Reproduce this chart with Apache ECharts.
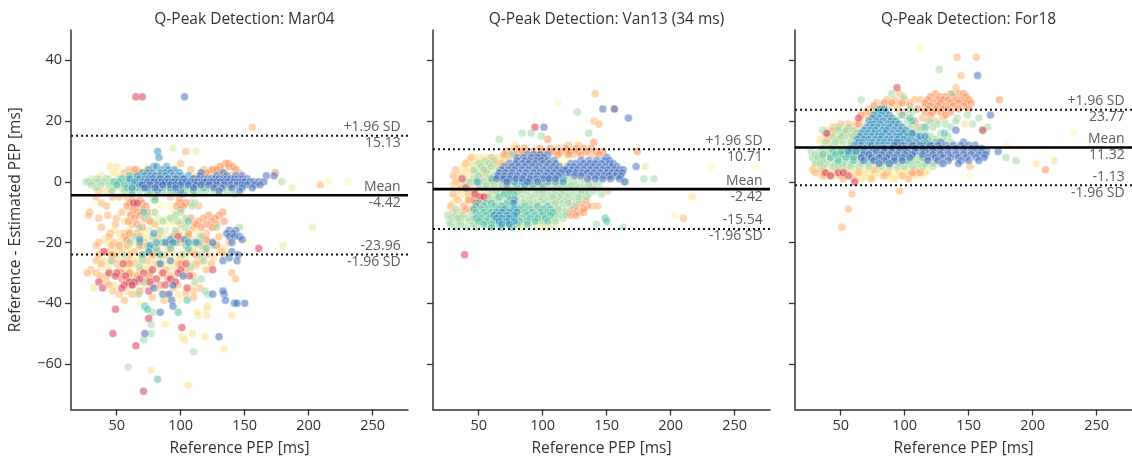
<!DOCTYPE html>
<html><head><meta charset="utf-8">
<style>html,body{margin:0;padding:0;background:#fff}#c{width:1132px;height:462px}</style>
<script src="https://cdn.jsdelivr.net/npm/echarts@6/dist/echarts.min.js"></script>
</head><body><div id="c"></div>
<script>
// Each row: [y, x1, x2, ...], in ms
const panelTitles=['Q-Peak Detection: Mar04','Q-Peak Detection: Van13 (34 ms)','Q-Peak Detection: For18'];
const xTicks=[50,100,150,200,250];
const yTicks=[-60,-40,-20,0,20,40];
const meanValues=[-4.42,-2.42,11.32];
const upperValues=[15.13,10.71,23.77];
const lowerValues=[-23.96,-15.54,-1.13];

const mar_pale=[[0,216,231],[-20,151],[-40,68],[-39,99],[-15,78,84,96],[-18,92,104,116],[-22,70,84,110],[-25,62,96],[-12,88,102],[-28,74,118],[-8,84,92],[-3,40,55],[5,72,95],[-14,70,90,110],[-17,60,82,98],[-24,78,90,108],[-30,66,96],[-21,62,96,118],[-26,72,104],[-19,76,88,106]];
const mar_lime=[[11,94],[10,112],[-2,187],[-15,203],[-21,180],[-44,114],[-42,120],[-12,82,92],[-16,75,88,100],[-20,66,80,115],[-24,52,72,96,124],[-27,44,60,88,108],[1,30,44],[3,90],[-6,78],[-18,72,86,106],[-22,60,76,92,112],[-25,48,70,100],[-29,58,84,106],[-13,78,94]];
const mar_yellow=[[5,45,50],[3,48,60,72],[2,38,52,66,82,112],[-3,42,58],[-35,32],[-44,140,120],[-43,113],[-41,121],[-47,88],[-50,109],[-51,101,119],[-52,103],[-55,134],[-62,77],[-67,106],[-10,60,78,96],[-13,56,86,104],[-16,48,60,70,108],[-19,40,54,62,78,112,128],[-22,46,58,90,118,134],[-25,36,50,66,86,104,126],[-28,38,56,78,94,112],[-31,62,84,102],[-34,48,72,110],[-37,66,98],[-20,44,56,68,82,96,110,124],[-23,38,50,62,76,92,106,120,130],[-26,40,54,68,80,98,114],[-29,44,60,72,90,108],[-17,52,66,84,98,114],[-32,38,54,78,94],[-36,58,84,104]];
const mar_lightorange=[[18,156],[10,104],[-1,209],[6,100],[4,60,66,74,108,118,124,130],[3,56,68,78,116,122,134,146],[2,62,118,128,140],[-3,36,46,62,88,104],[-5,34,47,52,58,80,92],[-7,38,100,108],[-8,42,114],[-10,29,54],[-11,28,43],[-12,36,50],[-14,49,62,80,100],[-15,38,110,124],[-17,45,56,66,96,120],[-20,36,48,60,72,100,122,138],[-23,42,54,64,82,108,132],[-26,34,46,58,74,92,116],[-29,30,52,68,88,104,120],[-30,27,34,140],[-31,37],[-32,143],[-33,42,72],[-36,47,110],[-38,78,110],[-39,56,87],[-35,115,94],[-18,44,56,68,82,94,106,118,130],[-21,34,46,58,70,92,104,116,128],[-24,36,48,60,70,88,100,120,134],[-27,38,50,64,82,98,112,124],[-31,42,60,76,92,110],[-34,44,78,98],[-37,52,62,90,104]];
const mar_orange=[[6,135,137],[5,131,138,141],[4,64,125,128,143],[3,174,120],[-6,62,68,99],[-7,60,70,104],[-8,58,65,73,97,102],[-9,63,70,100],[-10,66,74,133],[-11,61,68,122,130],[-12,64,72,108,118,127],[-13,59,76,114,124,134],[-14,66,112,120,128],[-15,70,116,125],[-17,60,106],[-19,58,100,120],[-21,52,68,128],[-24,46,78,112],[-27,60,84,100],[-30,54,60,76],[-31,66],[-32,54,73,90],[-33,58,67],[-34,62,84],[-36,68]];
const mar_green=[[1,35,42,52,58,110],[0,26,28,32,36,40,46,56,62,68],[-1,30,38,44,50,60,66,72,84,100],[-2,34,48,54,64,72,78,90,94,108,116,122,128,134],[-3,46,56,62,68,74,80,86,92,98,104,112,116,120,126,130,136,140],[-4,74,92,110,142],[-7,111],[-8,109],[-10,80,100],[-13,98,86],[-15,68,104,128,146],[-18,64,78,94,116],[-21,74,104,126],[-24,56,84,102,116],[-26,46,70,118],[-28,68,108],[-33,63,71,111],[-32,116],[-34,63],[-36,119],[-37,67,121],[-43,78],[-47,77],[-50,77],[-52,71],[-56,110],[-61,59],[0,179],[-2,84,100,104,112,126,138],[-12,92,104],[-16,96,84],[-20,60,110],[-11,74,96]];
const mar_red=[[28,65,70],[-22,161],[-29,78,100,125],[-30,44,50,71,86,98],[-31,49,57,107],[-32,68,81,92],[-33,36,60,64,76,96],[-34,56,62,88],[-35,39,54,105],[-36,75],[-42,49],[-45,75],[-48,101],[-50,47],[-54,65],[-69,71],[-23,40],[-27,55,104],[-20,90],[-18,98],[-7,63,66]];
const mar_teal=[[3,96],[2,60,70,86],[1,54,66,78,104],[0,48,52,60,72,112],[-1,56,64,76,92],[-2,58,70,86,102,118],[-3,76,96,110],[-4,62,102],[-6,80],[-10,71],[-13,106],[-20,68,86,96,114],[-22,76,81,92,106,120],[-24,84,70],[-41,72],[-42,74],[-43,98],[-39,105],[-65,82],[-2,66,82],[-1,50,70,84,104]];
const mar_blue=[[10,82],[8,83],[5,79,81,89],[4,75,85,95,90],[3,70,74,78,84,88,92,99],[2,66,72,76,80,84,88,94,98,100,106],[1,60,68,72,75,82,86,90,94,97,100,103,110],[0,64,70,77,87,96,106,114,122],[-1,68,80,88,98,110],[-2,62,74,84,92],[-3,82,100],[-17,79],[-19,68,92,103],[-20,81,88,94,106,112],[-21,76],[-23,75],[-27,84],[-26,92]];
const mar_darkblue=[[28,103],[3,116,133],[2,115,128,136,143,148,167,173],[1,78,84,90,96,102,110,114,118,121,124,127,130,133,136,139,142,145,148,152],[0,74,79,82,85,88,91,93,95,98,101,104,108,111,113,116,118,120,123,125,128,131,134,137,141,144,146,148,150,154,157,161,165],[-1,70,76,82,86,92,96,100,106,112,116,122,128,134,139,144,148,152,158,162],[-2,72,80,96,110,126,132,140,148,156],[-3,130,146],[-16,138,143],[-17,136,141],[-18,138,142,146],[-19,148],[-20,125,140],[-23,140],[-24,145],[-25,138],[-26,133,144],[-31,102],[-34,94],[-35,79],[-37,86,91,125,134],[-36,133],[-39,93,135],[-40,142,144,150],[-41,94],[-43,84],[-50,72],[-51,130]];

const van_pale=[[5,232,266],[-11,203],[26,112],[-1,70,90,110],[-6,100,118,82],[-9,62,74,96],[-13,58,80,104],[2,60,58],[4,100,114],[7,104],[-7,92,106,88],[-8,96,110,84],[9,98,110,116],[8,112,118],[6,114,116],[-10,110,114],[-14,96,114]];
const van_lime=[[5,180],[-14,84,108],[-15,76,100],[-12,66,94],[-7,88,106],[-3,76,62],[-10,56,84,118],[8,62,50],[6,70,55],[-15,84,92,104],[-14,100,64],[-13,36,42],[-4,54,58],[-2,58,64],[4,62,58],[5,56,64]];
const van_yellow=[[-5,217],[7,42,50,66],[5,38,46,58],[3,36,44,52],[1,34,42,62],[-2,32,46],[-4,38,48,56],[12,78],[10,86,98],[8,46,54,58,66,70],[6,44,52,60],[4,40,48,54],[2,34,38,46],[0,36,42],[-1,30,44],[-3,34,40],[-5,32,44,52],[-7,30,42,52]];
const van_lightorange=[[20,140],[19,144],[29,141],[-12,210],[-8,139,143],[-3,151],[8,44,60,74],[6,40,64,68],[4,32,56],[2,30,54],[0,32,60],[-2,36,52],[-4,30,42],[-6,34,50,44],[-8,28,38,48],[-10,30,36,44],[10,102,110,120],[9,82,124,138],[12,120,128],[11,112]];
const van_orange=[[24,156],[14,104],[13,140],[10,174],[11,80,86,98,106,118,126,132,138],[10,72,76,84,92,100,108,114,122,128,134,142,147],[9,70,78,96,112,120,130,144],[-8,135],[-10,120,128,132],[-11,122,126],[-9,124,132],[-7,130],[-5,50,56],[-3,46],[-6,42,46,54],[-9,40,46],[-8,126],[-6,134]];
const van_green=[[23,127],[16,84,91,136],[15,99],[14,66],[9,75],[3,56,48],[1,179,187,46,58],[0,165,40,52,60],[-14,142],[-15,163,32,40,48],[-13,27,34,44,96],[-12,29,36,42,90,110,116],[-11,26,32,38,46,106,114],[-10,88,102,112],[-9,32,64,76,94,108,116],[-8,68,80,92,112,122],[-7,60,72,84,96,102,116,126],[-6,62,76,86,92,100,108,114,120,128],[-5,64,70,80,90,98,104,112,118,124,134],[-4,66,74,84,94,100,108,114,120,130,136,146],[-3,60,70,78,88,96,104,110,116,124,134,140],[-2,56,66,74,82,92,100,106,112,120,128,138,144],[-1,50,62,72,78,86,94,102,110,118,126,132,140],[0,44,54,68,76,84,92,98,106,114,124,136,144],[1,48,66,80,100,112,120,130],[7,55,62],[6,50,58],[5,52,60],[4,46,54,66],[2,50,62,68,114,118],[-14,28,36,46,56],[-13,52,62],[-12,34,46],[-5,58,74,108,128],[-3,64,82,100,130],[-1,56,68,84,98,114,122,136],[-7,66,78,90,110,120],[-9,84,100,112],[-11,100,110,118],[-13,100,110]];
const van_red=[[18,94],[-24,39],[1,37],[-5,51,54],[-4,47],[-7,48],[-2,40]];
const van_teal=[[-12,149],[-13,150],[-7,50,56,60,72,78],[-8,48,54,62,68,86,96,104],[-9,46,52,58,66,74,82,90,100,106],[-10,48,54,60,70,78,86,92,98,104,108],[-11,50,56,62,68,74,80,88,94,100,106],[-12,48,52,58,64,72,78,84,90,96,102],[-13,50,56,62,68,76,82,88,94,104],[-14,54,60,66,74,80,88],[-15,60,68,76],[-1,80,92,100],[1,60,84],[-5,66,74],[-4,70,78],[-3,74]];
const van_blue=[[8,80,100],[1,71],[0,49,78,84,90,104],[-1,72,86],[-6,78],[-7,77],[-9,70,78],[-10,64,68,74,80],[-11,62,66,72,78],[-12,64,68,74],[-13,66,72,78],[-14,68,74],[1,104,116],[3,118],[0,110,116]];
const van_darkblue=[[24,147,156],[21,167],[18,101],[5,173],[9,88,93,98,104],[8,85,91,96,101,150],[7,80,86,90,95,99,104,109,130,136,142,148,152],[6,74,79,84,89,94,100,105,110,122,126,132,137,141,146,152,155],[5,70,76,81,86,92,97,103,108,113,120,124,129,134,139,144,149,154,158],[4,68,73,78,84,89,95,101,106,111,116,118,123,127,132,137,142,147,151,156,160,163],[3,66,71,76,82,87,93,98,104,109,114,121,126,131,135,140,145,150,154,158,162],[2,65,70,75,80,86,91,96,102,107,112,125,130,138,143,148,152,157,161],[1,64,69,74,79,84,90,95,100,105,110,135,141,147,153,160],[0,72,88,96,164]];

const for_pale=[[44,112],[16,232],[12,180],[2,151],[3,60,82,100],[4,48,72,112],[12,52,42],[15,50,46],[2,78,94,66],[1,88,70],[5,68,84,100],[3,92,106],[4,88,104],[2,104,114]];
const for_lime=[[4,30,66,90],[5,40,56,78,96],[3,52,70,104],[14,60,122],[6,116,124],[9,32],[6,62,86,100],[4,58,82,98],[3,44,78,88],[2,56,74],[7,30,38,72]];
const for_yellow=[[19,147],[6,203],[7,217],[17,40,48,54,60],[15,38,44,56,62],[13,36,42,50,64],[4,36,44,62,80,100,118],[3,40,56,74,96,110],[2,46,70,88],[1,66,92],[5,30,50],[22,84,96],[20,66,72],[4,52,70,94,110],[3,34,48,66,84,102,116],[2,38,60,82,100,108],[18,46,52],[16,44,54,58],[14,34,46,58]];
const for_lightorange=[[41,141,156],[35,144],[31,140],[29,96],[22,70],[5,151],[1,103],[-3,96],[-4,59],[-9,56],[-15,51],[4,28,34,54,76,108],[3,30,38,64,86],[2,36,42,50,84,98],[1,52,60,74],[16,42,52],[18,44,58],[14,40,62],[27,86,92,100,108,112],[26,78,96,104],[25,82,88,116],[24,72,76,94],[23,70,100],[21,114,130],[20,118,124],[17,44,56,62],[15,40,52,60],[19,50,56,62]];
const for_orange=[[27,174],[4,210],[29,124,136,142,146],[28,120,128,132,138,148],[27,118,126,130,134,140,144,150],[26,116,122,128,136,142,148,152],[25,120,126,132,138,146],[24,118,124,130,134,142,150],[23,116,122,128,136],[22,120,132],[26,84,90,98],[25,76,104],[24,80,110],[22,74,66],[3,112,106],[19,64],[20,108],[18,110]];
const for_green=[[37,127],[29,90,137],[28,99],[27,66],[22,149],[21,141,158],[19,153],[18,165,48,56],[17,161,36,60],[16,40,52,62,108,116,128],[15,44,56,66,96,104,120,134],[14,48,60,92,100,112,124,130],[13,38,52,64,98,106,118,136],[12,44,58,104,114,126],[20,92,102,120,140],[19,96,106,126,132],[18,98,104,114,122,136],[17,100,112],[24,78,82,104],[23,86,106],[8,179,28,36,48,60,78,92,108,120],[7,187,32,42,54,66,84,98,112,124],[6,30,38,46,58,72,88,104,116,128],[5,36,44,52,64,82,94,106,122],[10,27,34,46,58,70,88,102],[9,30,40,52,66,82,96,112,128],[11,36,48],[8,32,42,54,70,86,102,112],[7,36,48,60,78,92,106],[6,34,52,66,80,96,110,122],[5,48,58,72,88,100,114],[10,40,52,64],[11,42,54,60],[13,46,58],[15,50,60],[17,48,54]];
const for_red=[[31,94],[17,161],[2,56],[0,61],[3,38,48,52],[2,42],[21,64],[16,39]];
const for_teal=[[16,131],[10,44,54,64,76,84,110],[9,36,50,60,72,106,120],[8,42,54,66,88,100,114],[7,48,60,74,90,102],[20,106],[18,116],[21,104],[13,110,124],[22,98],[14,118],[12,122],[11,112,130],[9,46,56,78],[8,60,72,80],[10,50,60,70]];
const for_blue=[[24,81,84],[23,79,85],[22,76,82,88],[21,75,80,86,90],[20,72,78,83,89,93],[19,73,76,81,87,91,95],[18,70,75,79,84,88,94,98],[17,68,73,77,83,86,92,97,101],[16,66,71,76,80,85,90,95,99,105],[15,65,70,74,79,82,88,93,96,102,109],[14,63,68,72,77,81,86,90,94,99,105,113],[13,64,67,73,75,80,84,89,92,97,103,109,116],[12,61,66,71,74,79,83,87,91,95,100,107,115,121],[11,58,65,69,76,81,86,92,98,104,110,118,124],[10,56,62,68,74,120],[16,106],[15,112,116]];
const for_darkblue=[[35,157],[22,167],[17,140],[13,94,128,146],[10,173,78,84,90,96,102,108,116,124,130,136,142,148,154,160,164],[12,92,98,106,112,120,126,132,138,144,150,155],[11,84,90,96,100,108,114,122,128,134,140,146,152,156,160],[9,68,72,82,88,94,100,106,114,122,128,134,140,146,152,158,163],[8,66,74,80,86,92,98,104,118,124,130,136,142,148,156,162],[7,68,76,84,92,98,118,126,134,144,150,158],[6,80,88,130,142]];

const colors={pale:'#fff6b0',lime:'#d6ee9b',yellow:'#fee08b',lightorange:'#fdb26e',orange:'#fb8f55',green:'#a3d9a4',red:'#d93c57',teal:'#55bfa6',blue:'#3a93c0',darkblue:'#4470bb'};
const layers=['pale','lime','yellow','lightorange','orange','green','red','teal','blue','darkblue'];
const panels=[
 {pale:mar_pale,lime:mar_lime,yellow:mar_yellow,lightorange:mar_lightorange,orange:mar_orange,green:mar_green,red:mar_red,teal:mar_teal,blue:mar_blue,darkblue:mar_darkblue},
 {pale:van_pale,lime:van_lime,yellow:van_yellow,lightorange:van_lightorange,orange:van_orange,green:van_green,red:van_red,teal:van_teal,blue:van_blue,darkblue:van_darkblue},
 {pale:for_pale,lime:for_lime,yellow:for_yellow,lightorange:for_lightorange,orange:for_orange,green:for_green,red:for_red,teal:for_teal,blue:for_blue,darkblue:for_darkblue}
];
const expand=rows=>rows.flatMap(([y,...xs])=>xs.map(x=>[x,y]));
const font='"Open Sans"',ink='#333333';
const xMin=14.3,xMax=277.6,labelX=271.9;
const lefts=[71,433,795];
const chart=echarts.init(document.getElementById('c'),null,{renderer:'canvas'});
const option={animation:false,backgroundColor:'#fff',grid:[],xAxis:[],yAxis:[],title:[],series:[],textStyle:{fontFamily:font}};
panels.forEach((p,i)=>{
  option.grid.push({left:lefts[i],top:30,width:337,height:379.5});
  option.title.push({text:panelTitles[i],left:lefts[i]+168.5,top:7,textAlign:'center',textStyle:{fontFamily:font,fontSize:15.5,fontWeight:'normal',color:ink}});
  const axisCommon={axisLine:{show:true,onZero:false,lineStyle:{color:ink,width:1.5}},splitLine:{show:false}};
  option.xAxis.push({...axisCommon,gridIndex:i,type:'value',min:xMin,max:xMax,name:'Reference PEP [ms]',nameLocation:'middle',nameGap:31,nameTextStyle:{fontFamily:font,fontSize:15.5,color:ink},
    axisTick:{show:true,length:6,lineStyle:{color:ink,width:1.3},customValues:xTicks},
    axisLabel:{show:true,fontFamily:font,fontSize:14.5,color:ink,margin:9,customValues:xTicks}});
  option.yAxis.push({...axisCommon,gridIndex:i,type:'value',min:-75,max:50,name:i===0?'Reference - Estimated PEP [ms]':'',nameLocation:'middle',nameGap:47,nameTextStyle:{fontFamily:font,fontSize:15.5,color:ink},
    axisTick:{show:true,length:6,lineStyle:{color:ink,width:1.3},customValues:yTicks},
    axisLabel:{show:i===0,fontFamily:font,fontSize:14.5,color:ink,margin:9,customValues:yTicks,formatter:v=>String(v).replace('-','\u2212')}});
  layers.forEach(k=>option.series.push({type:'scatter',name:k,xAxisIndex:i,yAxisIndex:i,z:2,silent:true,data:expand(p[k]),symbolSize:8,
    itemStyle:{color:colors[k],opacity:0.55,borderColor:'#ffffff',borderWidth:0.8}}));
  const line=(y,style)=>({type:'line',xAxisIndex:i,yAxisIndex:i,z:5,silent:true,symbol:'none',data:[[xMin,y],[xMax,y]],lineStyle:style});
  const dots={color:'#111',width:2,type:[2,3]};
  option.series.push(line(upperValues[i],dots),line(lowerValues[i],dots),line(meanValues[i],{color:'#000',width:2.6}));
  const lab=(y,text,off)=>({value:[labelX,y],label:{show:true,formatter:text,position:'left',distance:0,offset:[0,off],fontFamily:font,fontSize:14,color:ink}});
  const f=v=>v.toFixed(2);
  option.series.push({type:'scatter',xAxisIndex:i,yAxisIndex:i,z:6,silent:true,symbolSize:0,data:[
    lab(upperValues[i],'+1.96 SD',-8.5),lab(upperValues[i],f(upperValues[i]),7.5),
    lab(meanValues[i],'Mean',-8.5),lab(meanValues[i],f(meanValues[i]),7.5),
    lab(lowerValues[i],f(lowerValues[i]),-8.5),lab(lowerValues[i],'-1.96 SD',7.5)]});
});
chart.setOption(option);
</script></body></html>
